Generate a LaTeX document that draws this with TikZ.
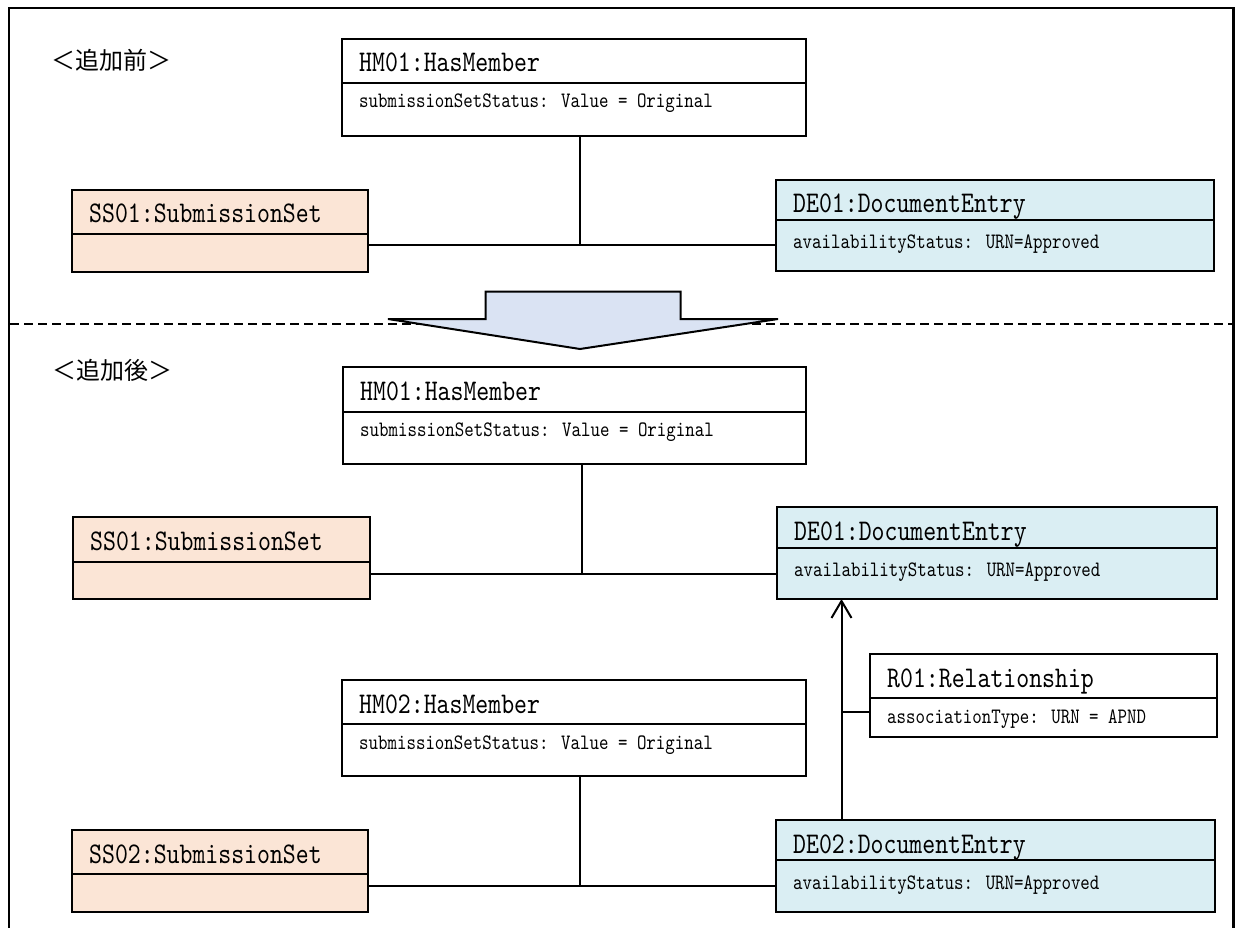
\documentclass[tikz,border=0pt]{standalone}
\usepackage{fontspec}
\usetikzlibrary{arrows.meta}
\newfontfamily\umlmono[FakeStretch=0.82]{lmmono10-regular.otf}
\newfontfamily\jpfont{Noto Sans CJK JP}
\definecolor{ssfill}{HTML}{FBE5D6}
\definecolor{defill}{HTML}{DAEEF3}
\definecolor{arrowfill}{HTML}{DAE3F3}
\tikzset{
  umlrect/.style={draw, line width=2pt, inner sep=0pt, outer sep=0pt},
  umlline/.style={line width=2pt},
  conn/.style={line width=2pt},
  titletext/.style={font=\umlmono\fontsize{30}{30}\selectfont, inner sep=0pt},
  attrtext/.style={font=\umlmono\fontsize{22}{22}\selectfont, inner sep=0pt},
  jplabel/.style={font=\jpfont\fontsize{24}{24}\selectfont, inner sep=0pt, anchor=west},
  framestyle/.style={line width=2.2pt},
  divider/.style={line width=2pt, dash pattern=on 9pt off 5pt},
}
\newcommand{\umlbox}[9]{%
  \node[umlrect, fill=#7, minimum width=#4pt, minimum height=#5pt, anchor=north west] (#1) at (#2,#3) {};
  \draw[umlline] ([yshift=-#6pt]#1.north west) -- ([yshift=-#6pt]#1.north east);
  \node[titletext, anchor=base west] (#1-t) at ([xshift=17pt,yshift=-33pt]#1.north west) {#8};
  \node[attrtext, anchor=base west] (#1-a) at ([xshift=17pt,yshift=-69pt]#1.north west) {#9};
}
\begin{document}
\begin{tikzpicture}[x=1pt,y=-1pt]
\useasboundingbox (0,0) rectangle (1235,928);
% frame
\draw[framestyle] (9,928) -- (9,8) -- (1233.5,8) -- (1233.5,928);
% section divider
\draw[divider] (10,323.5) -- (1232.5,323.5);
% big arrow
\draw[fill=arrowfill, line width=2pt, line join=miter]
  (485.7,291.7) -- (680.7,291.7) -- (680.7,319) -- (778,319) -- (580,349)
  -- (388,319) -- (485.7,319) -- cycle;
% labels
\node[jplabel] (lblbefore) at (51,60) {＜追加前＞};
\node[jplabel] (lblafter) at (52,370) {＜追加後＞};
% ---- before ----
\umlbox{HMa}{342}{39}{464}{97}{44}{white}{HM01:HasMember}{submissionSetStatus: Value = Original}
\umlbox{SSa}{72}{190}{296}{82}{44}{ssfill}{SS01:SubmissionSet}{}
\umlbox{DEa}{776}{180}{438}{91}{40}{defill}{DE01:DocumentEntry}{availabilityStatus: URN=Approved}
\coordinate (ja) at (580,245.5);
\draw[conn] (SSa.east |- ja) -- (DEa.west |- ja);
\draw[conn] (HMa.south -| ja) -- (ja);
% ---- after ----
\umlbox{HMb}{343}{367}{463}{97}{45}{white}{HM01:HasMember}{submissionSetStatus: Value = Original}
\umlbox{SSb}{73}{517}{297}{82}{45}{ssfill}{SS01:SubmissionSet}{}
\umlbox{DEb}{777}{507}{440}{92}{41}{defill}{DE01:DocumentEntry}{availabilityStatus: URN=Approved}
\coordinate (jb) at (582,574);
\draw[conn] (SSb.east |- jb) -- (DEb.west |- jb);
\draw[conn] (HMb.south -| jb) -- (jb);
\umlbox{ROne}{870}{654}{347}{83}{44}{white}{R01:Relationship}{associationType: URN = APND}
\umlbox{HMc}{342}{680}{464}{96}{44}{white}{HM02:HasMember}{submissionSetStatus: Value = Original}
\umlbox{SSc}{72}{830}{296}{82}{44}{ssfill}{SS02:SubmissionSet}{}
\umlbox{DEc}{776}{820}{439}{92}{40}{defill}{DE02:DocumentEntry}{availabilityStatus: URN=Approved}
\coordinate (jc) at (580,886);
\draw[conn] (SSc.east |- jc) -- (DEc.west |- jc);
\draw[conn] (HMc.south -| jc) -- (jc);
% relationship arrow
\coordinate (jr) at (841.5,712);
\draw[conn, -{Straight Barb[length=17pt, width=20pt, line width=2pt]}] (DEc.north -| jr) -- (DEb.south -| jr);
\draw[conn] (ROne.west |- jr) -- (jr);
\end{tikzpicture}
\end{document}
